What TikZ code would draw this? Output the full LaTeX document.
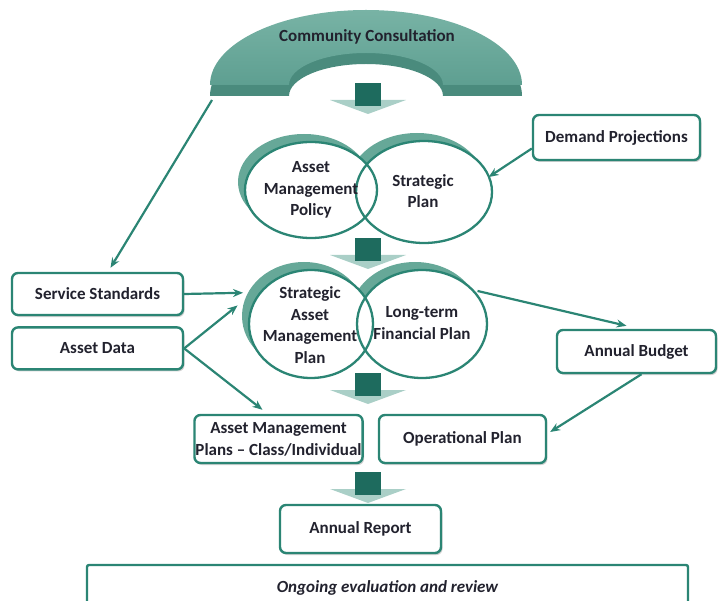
\documentclass[tikz,border=0pt]{standalone}
\usepackage{fontspec}
\setmainfont{Carlito}
\usetikzlibrary{shapes.geometric,positioning,arrows.meta,shadows}

\definecolor{rim}{HTML}{2B8574}
\definecolor{archhi}{HTML}{78B3A5}
\definecolor{archtop}{HTML}{5E9F91}
\definecolor{archface}{HTML}{4A8B7D}
\definecolor{stepdark}{HTML}{1E6B5E}
\definecolor{steplight}{HTML}{AACFC7}
\definecolor{halo}{HTML}{66A898}
\definecolor{ink}{HTML}{22222E}

\tikzset{
  box/.style={draw=rim, line width=2.4pt, fill=white, rounded corners=6pt,
    align=center, text=ink, font=\bfseries\fontsize{17}{22}\selectfont,
    drop shadow={shadow xshift=1.5pt, shadow yshift=-2pt, fill=black!30, opacity=0.6}},
  lens/.style={ellipse, inner sep=0pt, align=center, text=ink,
    font=\bfseries\fontsize{17}{21.5}\selectfont},
  link/.style={rim, line width=2.2pt, -{Stealth[length=10pt,width=8pt]}},
}

\begin{document}
\begin{tikzpicture}[x=1pt, y=-1pt]
    \useasboundingbox (0,0) rectangle (719,601);
    \clip (0,0) rectangle (719,601);

    % arch: front face, then top face
    \fill[archface] (210,96) arc[start angle=180, end angle=0, x radius=156pt, y radius=75pt]
        -- (443,96) arc[start angle=0, end angle=180, x radius=77pt, y radius=32pt] -- cycle;
    \shade[top color=archhi, bottom color=archtop] (210,85) arc[start angle=180, end angle=0, x radius=156pt, y radius=75pt]
        -- (443,85) arc[start angle=0, end angle=180, x radius=77pt, y radius=32pt] -- cycle;
    \node[font=\bfseries\fontsize{17}{20}\selectfont, text=ink] (community) at (367,37) {Community Consultation};

    % down steps between the levels
    \foreach \y in {83,238,373,472}{
        \fill[steplight] (330,\y+17) -- (406,\y+17) -- (368,\y+31) -- cycle;
        \fill[stepdark] (355,\y) rectangle (381,\y+23);
    }

    % overlapping plan circles: shadow, fill, rim
    \foreach \cx/\cy/\rx/\ry in {311/190/66/48, 424/192/68/51, 311/324/62/54, 422/324/65/54}
        \fill[halo] (\cx-7,\cy-8) ellipse[x radius=\rx pt, y radius=\ry pt];
    \foreach \cx/\cy/\rx/\ry in {311/190/66/48, 424/192/68/51, 311/324/62/54, 422/324/65/54}
        \fill[white] (\cx,\cy) ellipse[x radius=\rx pt, y radius=\ry pt];
    \foreach \cx/\cy/\rx/\ry in {311/190/66/48, 424/192/68/51, 311/324/62/54, 422/324/65/54}
        \draw[rim, line width=2.3pt] (\cx,\cy) ellipse[x radius=\rx pt, y radius=\ry pt];

    \node[lens, minimum width=132pt, minimum height=96pt] (amp) at (311,190) {Asset\\Management\\Policy};
    \node[lens, minimum width=136pt, minimum height=102pt] (sp) at (423,191) {Strategic\\Plan};
    \node[lens, minimum width=124pt, minimum height=108pt] (samp) at (310,325) {Strategic\\Asset\\Management\\Plan};
    \node[lens, minimum width=130pt, minimum height=108pt] (ltfp) at (422,323) {Long-term\\Financial Plan};

    % boxes
    \node[box, minimum width=171pt, minimum height=42pt] (services) at (97.5,294) {Service Standards};
    \node[box, minimum width=171pt, minimum height=42pt, below=10pt of services] (assetdata) {Asset Data};
    \node[box, minimum width=167pt, minimum height=45pt] (demand) at (616.5,137.5) {Demand Projections};
    \node[box, minimum width=159pt, minimum height=43pt] (budget) at (636.5,351.5) {Annual Budget};
    \node[box, minimum width=167pt, minimum height=48pt, inner sep=1pt] (amplans) at (278.5,439) {Asset Management\\Plans -- Class/Individual};
    \node[box, minimum width=167pt, minimum height=48pt, right=14pt of amplans] (operational) {Operational Plan};
    \node[box, minimum width=161pt, minimum height=48pt] (report) at (360.5,529) {Annual Report};
    \node[draw=rim, line width=2.4pt, fill=white, rounded corners=2pt, text=ink,
        font=\bfseries\itshape\fontsize{17}{20}\selectfont, minimum width=601pt, minimum height=46pt]
        (review) at (387.5,588) {Ongoing evaluation and review};

    % connectors
    \coordinate (archfoot) at (212,100);
    \draw[link] (archfoot) -- ([xshift=13pt,yshift=4pt]services.north);
    \draw[link] ([yshift=-11pt]demand.west) -- (sp.12);
    \draw[link] (services.east) -- ([shift={(-7,-8)}]samp.158);
    \draw[link] (assetdata.east) -- ([shift={(-7,-8)}]samp.170);
    \draw[link] (assetdata.east) -- ([xshift=-16pt,yshift=4pt]amplans.north);
    \draw[link] (ltfp.30) -- ([xshift=-10pt,yshift=3pt]budget.north);
    \draw[link] ([xshift=5pt]budget.south) -- ([xshift=3pt,yshift=7pt]operational.east);
\end{tikzpicture}
\end{document}
